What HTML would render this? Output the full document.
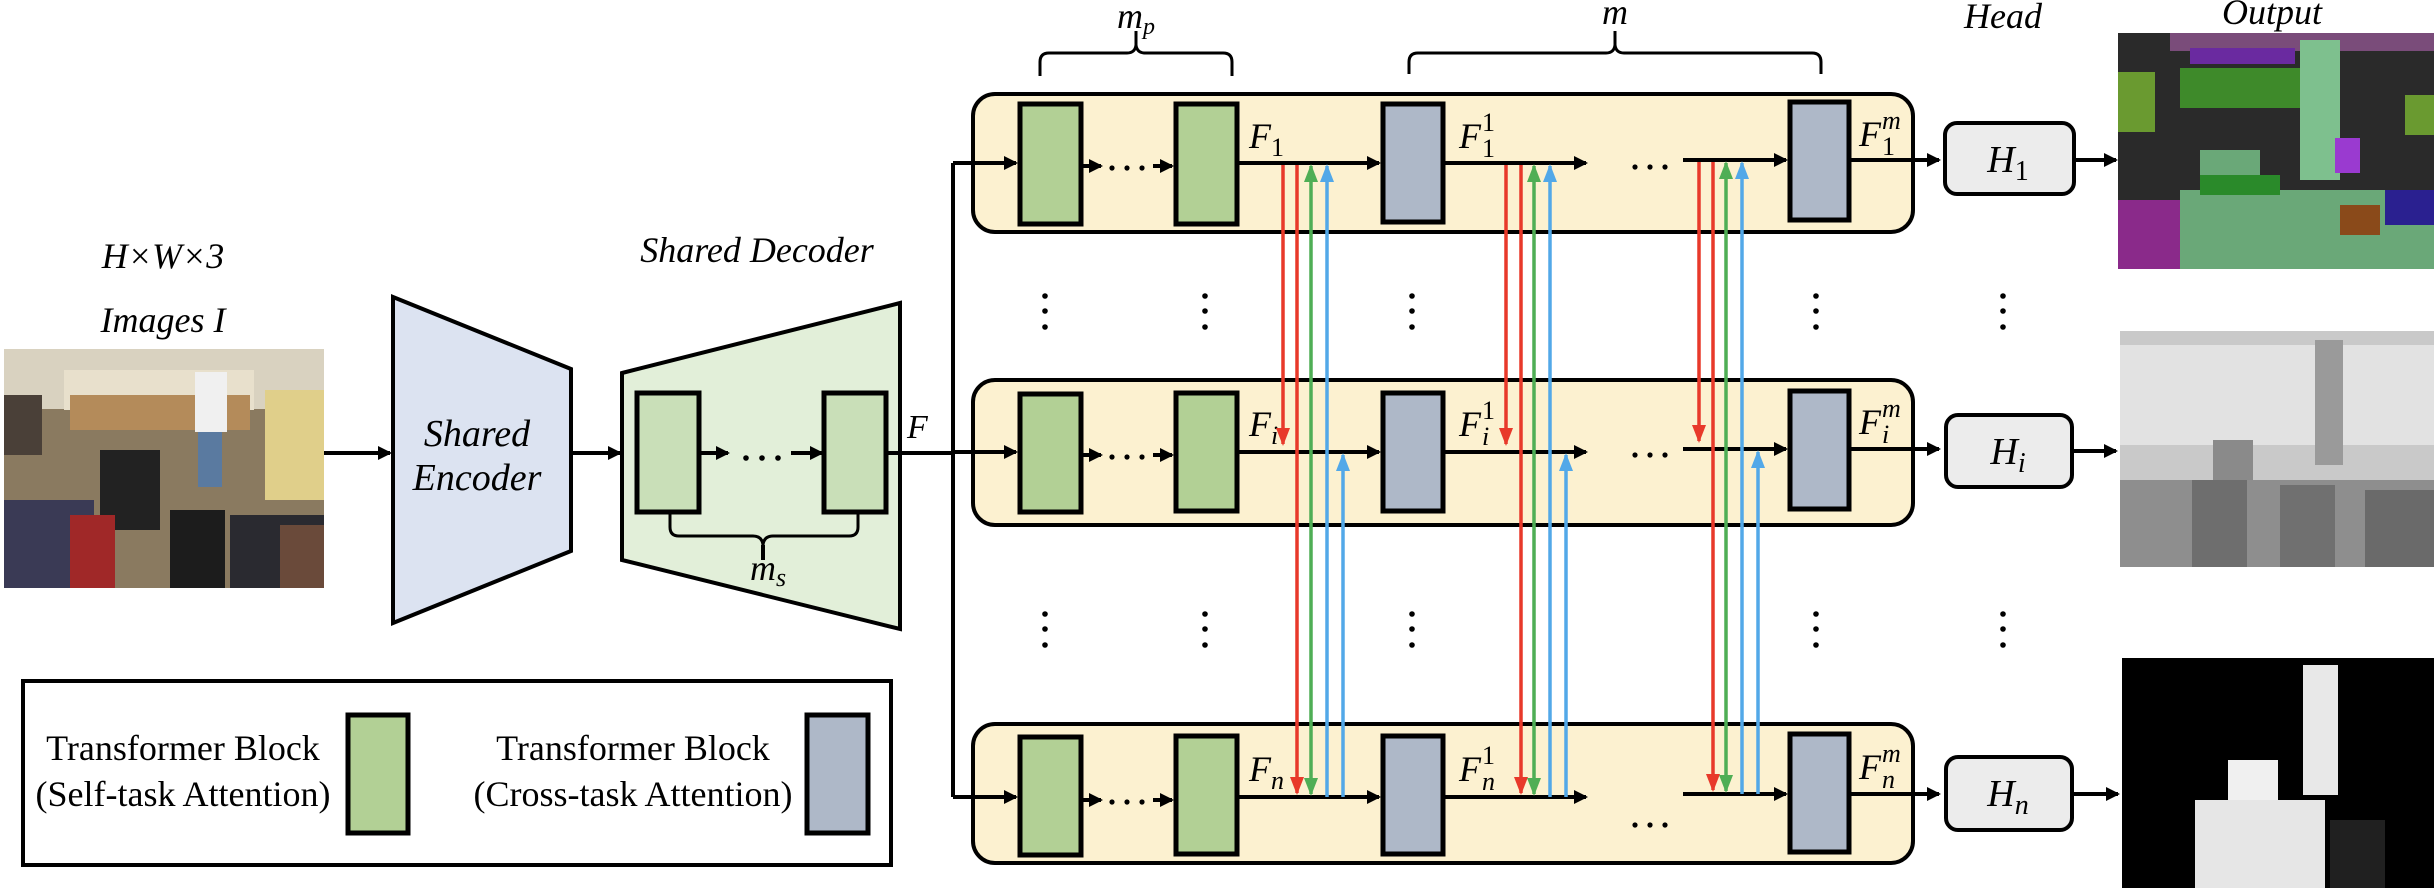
<!DOCTYPE html>
<html><head><meta charset="utf-8"><style>
html,body{margin:0;padding:0;background:#fff;}
svg{display:block;font-family:"Liberation Serif","DejaVu Serif",serif;}
svg text{font-family:"Liberation Serif","DejaVu Serif",serif;fill:#000;}
.it{font-style:italic;}
</style></head><body>
<svg width="2434" height="888" viewBox="0 0 2434 888" xmlns="http://www.w3.org/2000/svg" font-family="Liberation Serif, serif">
<defs>
<marker id="ak" markerWidth="14" markerHeight="14" refX="12" refY="7" orient="auto" markerUnits="userSpaceOnUse"><path d="M0,0 L14,7 L0,14 z" fill="#000"/></marker>
<marker id="ar" markerWidth="18" markerHeight="14" refX="16" refY="7" orient="auto-start-reverse" markerUnits="userSpaceOnUse"><path d="M0,0 L18,7 L0,14 z" fill="#e8392a"/></marker>
<marker id="ag" markerWidth="18" markerHeight="14" refX="16" refY="7" orient="auto-start-reverse" markerUnits="userSpaceOnUse"><path d="M0,0 L18,7 L0,14 z" fill="#4fae55"/></marker>
<marker id="ab" markerWidth="18" markerHeight="14" refX="16" refY="7" orient="auto-start-reverse" markerUnits="userSpaceOnUse"><path d="M0,0 L18,7 L0,14 z" fill="#52a8e8"/></marker>
</defs>

<!-- input photo -->
<rect x="4" y="349" width="320" height="239" fill="#8a7a60"/>
<rect x="4" y="349" width="320" height="60" fill="#d9d2c0"/>
<rect x="64" y="370" width="190" height="40" fill="#e8e0cc"/>
<rect x="70" y="395" width="180" height="35" fill="#b48b5a"/>
<rect x="265" y="390" width="59" height="110" fill="#e0cf8a"/>
<rect x="4" y="395" width="38" height="60" fill="#4a4038"/>
<rect x="4" y="500" width="90" height="88" fill="#3a3a55"/>
<rect x="195" y="372" width="32" height="60" fill="#f0f0f0"/>
<rect x="198" y="432" width="24" height="55" fill="#5a7aa0"/>
<rect x="100" y="450" width="60" height="80" fill="#222"/>
<rect x="70" y="515" width="45" height="73" fill="#a02828"/>
<rect x="170" y="510" width="55" height="78" fill="#1c1c1c"/>
<rect x="230" y="515" width="94" height="73" fill="#2a2a30"/>
<rect x="280" y="525" width="44" height="63" fill="#6a4a3a"/>

<text x="163" y="268" font-size="36" text-anchor="middle" class="it">H×W×3</text>
<text x="163" y="332" font-size="36" text-anchor="middle" class="it">Images I</text>

<line x1="324" y1="453" x2="390" y2="453" stroke="#000" stroke-width="4" marker-end="url(#ak)"/>

<!-- encoder -->
<polygon points="393,297 571,369 571,551 393,623" fill="#dce3f1" stroke="#000" stroke-width="4"/>
<text x="477" y="446" font-size="38" text-anchor="middle" class="it">Shared</text>
<text x="477" y="490" font-size="38" text-anchor="middle" class="it">Encoder</text>
<line x1="571" y1="453" x2="620" y2="453" stroke="#000" stroke-width="4" marker-end="url(#ak)"/>

<!-- decoder -->
<text x="757" y="262" font-size="36" text-anchor="middle" class="it">Shared Decoder</text>
<polygon points="622,373 900,303 900,629 622,560" fill="#e2efd9" stroke="#000" stroke-width="4"/>
<rect x="637" y="393" width="62" height="119" fill="#c9dfb8" stroke="#000" stroke-width="5"/>
<rect x="824" y="393" width="62" height="119" fill="#c9dfb8" stroke="#000" stroke-width="5"/>
<line x1="700" y1="453" x2="728" y2="453" stroke="#000" stroke-width="4" marker-end="url(#ak)"/>
<g fill="#000"><circle cx="746" cy="458" r="2.8"/><circle cx="762" cy="458" r="2.8"/><circle cx="778" cy="458" r="2.8"/></g>
<line x1="791" y1="453" x2="822" y2="453" stroke="#000" stroke-width="4" marker-end="url(#ak)"/>
<path d="M670,513 v14 q0,9 9,9 h74 q9,0 10,9 q1,-9 10,-9 h76 q9,0 9,-9 v-14" fill="none" stroke="#000" stroke-width="3"/>
<line x1="763" y1="545" x2="763" y2="560" stroke="#000" stroke-width="4"/>
<text x="768" y="580" font-size="36" class="it" text-anchor="middle">m<tspan font-size="26" dy="6">s</tspan></text>
<text x="907" y="438" font-size="34" class="it">F</text>

<!-- trunk -->
<line x1="888" y1="453" x2="953" y2="453" stroke="#000" stroke-width="4"/>
<line x1="953" y1="163" x2="953" y2="797" stroke="#000" stroke-width="4"/>

<!-- braces top -->
<path d="M1040,76 v-14 q0,-9 9,-9 h78 q8,0 9,-8 q1,8 9,8 h78 q9,0 9,9 v14" fill="none" stroke="#000" stroke-width="3"/>
<line x1="1136" y1="31" x2="1136" y2="46" stroke="#000" stroke-width="3"/>
<text x="1136" y="28" font-size="36" class="it" text-anchor="middle">m<tspan font-size="24" dy="6">p</tspan></text>
<path d="M1409,74 v-12 q0,-9 9,-9 h188 q8,0 9,-8 q1,8 9,8 h188 q9,0 9,9 v12" fill="none" stroke="#000" stroke-width="3"/>
<line x1="1615" y1="31" x2="1615" y2="46" stroke="#000" stroke-width="3"/>
<text x="1615" y="24" font-size="36" class="it" text-anchor="middle">m</text>
<text x="2003" y="28" font-size="36" class="it" text-anchor="middle">Head</text>
<text x="2272" y="24" font-size="36" class="it" text-anchor="middle">Output</text>

<!-- rows -->
<rect x="973" y="94" width="940" height="138" rx="22" fill="#fcf1d0" stroke="#000" stroke-width="4"/>
<rect x="973" y="380" width="940" height="145" rx="22" fill="#fcf1d0" stroke="#000" stroke-width="4"/>
<rect x="973" y="724" width="940" height="139" rx="22" fill="#fcf1d0" stroke="#000" stroke-width="4"/>

<g stroke="#000" stroke-width="5">
<rect x="1020" y="104" width="61" height="120" fill="#b2d095"/>
<rect x="1176" y="104" width="61" height="120" fill="#b2d095"/>
<rect x="1383" y="104" width="60" height="118" fill="#aeb8c8"/>
<rect x="1790" y="102" width="59" height="118" fill="#aeb8c8"/>
<rect x="1020" y="394" width="61" height="118" fill="#b2d095"/>
<rect x="1176" y="393" width="61" height="118" fill="#b2d095"/>
<rect x="1383" y="393" width="60" height="118" fill="#aeb8c8"/>
<rect x="1790" y="391" width="59" height="118" fill="#aeb8c8"/>
<rect x="1020" y="737" width="61" height="118" fill="#b2d095"/>
<rect x="1176" y="736" width="61" height="118" fill="#b2d095"/>
<rect x="1383" y="736" width="60" height="118" fill="#aeb8c8"/>
<rect x="1790" y="734" width="59" height="118" fill="#aeb8c8"/>
</g>

<g stroke="#000" stroke-width="4" fill="none">
<line x1="953" y1="163" x2="1016" y2="163" marker-end="url(#ak)"/>
<line x1="1083" y1="166" x2="1101" y2="166" marker-end="url(#ak)"/>
<line x1="1153" y1="166" x2="1172" y2="166" marker-end="url(#ak)"/>
<line x1="1239" y1="163" x2="1379" y2="163" marker-end="url(#ak)"/>
<line x1="1445" y1="163" x2="1586" y2="163" marker-end="url(#ak)"/>
<line x1="1683" y1="160" x2="1786" y2="160" marker-end="url(#ak)"/>
<line x1="1851" y1="160" x2="1939" y2="160" marker-end="url(#ak)"/>
<line x1="2076" y1="160" x2="2116" y2="160" marker-end="url(#ak)"/>
<line x1="953" y1="452" x2="1016" y2="452" marker-end="url(#ak)"/>
<line x1="1083" y1="455" x2="1101" y2="455" marker-end="url(#ak)"/>
<line x1="1153" y1="455" x2="1172" y2="455" marker-end="url(#ak)"/>
<line x1="1239" y1="452" x2="1379" y2="452" marker-end="url(#ak)"/>
<line x1="1445" y1="452" x2="1586" y2="452" marker-end="url(#ak)"/>
<line x1="1683" y1="449" x2="1786" y2="449" marker-end="url(#ak)"/>
<line x1="1851" y1="449" x2="1939" y2="449" marker-end="url(#ak)"/>
<line x1="2073" y1="451" x2="2116" y2="451" marker-end="url(#ak)"/>
<line x1="953" y1="797" x2="1016" y2="797" marker-end="url(#ak)"/>
<line x1="1083" y1="800" x2="1101" y2="800" marker-end="url(#ak)"/>
<line x1="1153" y1="800" x2="1172" y2="800" marker-end="url(#ak)"/>
<line x1="1239" y1="797" x2="1379" y2="797" marker-end="url(#ak)"/>
<line x1="1445" y1="797" x2="1586" y2="797" marker-end="url(#ak)"/>
<line x1="1683" y1="794" x2="1786" y2="794" marker-end="url(#ak)"/>
<line x1="1851" y1="794" x2="1939" y2="794" marker-end="url(#ak)"/>
<line x1="2073" y1="794" x2="2118" y2="794" marker-end="url(#ak)"/>
</g>
<g fill="#000" id="hd">
<circle cx="1112" cy="168" r="2.6"/><circle cx="1127" cy="168" r="2.6"/><circle cx="1142" cy="168" r="2.6"/>
<circle cx="1635" cy="167" r="2.6"/><circle cx="1650" cy="167" r="2.6"/><circle cx="1665" cy="167" r="2.6"/>
</g>
<g fill="#000">
<circle cx="1112" cy="457" r="2.6"/><circle cx="1127" cy="457" r="2.6"/><circle cx="1142" cy="457" r="2.6"/>
<circle cx="1635" cy="455" r="2.6"/><circle cx="1650" cy="455" r="2.6"/><circle cx="1665" cy="455" r="2.6"/>
<circle cx="1112" cy="802" r="2.6"/><circle cx="1127" cy="802" r="2.6"/><circle cx="1142" cy="802" r="2.6"/>
<circle cx="1635" cy="825" r="2.6"/><circle cx="1650" cy="825" r="2.6"/><circle cx="1665" cy="825" r="2.6"/>
</g>

<!-- vertical dots -->
<g fill="#000">
<g id="vd">
<circle cx="1045" cy="296" r="2.8"/><circle cx="1045" cy="311" r="2.8"/><circle cx="1045" cy="327" r="2.8"/>
<circle cx="1205" cy="296" r="2.8"/><circle cx="1205" cy="311" r="2.8"/><circle cx="1205" cy="327" r="2.8"/>
<circle cx="1412" cy="296" r="2.8"/><circle cx="1412" cy="311" r="2.8"/><circle cx="1412" cy="327" r="2.8"/>
<circle cx="1816" cy="296" r="2.8"/><circle cx="1816" cy="311" r="2.8"/><circle cx="1816" cy="327" r="2.8"/>
<circle cx="2003" cy="296" r="2.8"/><circle cx="2003" cy="311" r="2.8"/><circle cx="2003" cy="327" r="2.8"/>
</g>
<use href="#vd" y="318"/>
</g>

<!-- labels -->
<g font-size="36" class="it">
<text x="1249" y="148">F<tspan font-size="26" dy="8" font-style="normal">1</tspan></text>
<text x="1459" y="148">F</text><text x="1482" y="131" font-size="26" font-style="normal">1</text><text x="1482" y="157" font-size="26" font-style="normal">1</text>
<text x="1859" y="146">F</text><text x="1882" y="129" font-size="26">m</text><text x="1882" y="155" font-size="26" font-style="normal">1</text>
<text x="1249" y="436">F<tspan font-size="26" dy="8">i</tspan></text>
<text x="1459" y="436">F</text><text x="1482" y="419" font-size="26" font-style="normal">1</text><text x="1482" y="445" font-size="26">i</text>
<text x="1859" y="434">F</text><text x="1882" y="417" font-size="26">m</text><text x="1882" y="443" font-size="26">i</text>
<text x="1249" y="781">F<tspan font-size="26" dy="8">n</tspan></text>
<text x="1459" y="781">F</text><text x="1482" y="764" font-size="26" font-style="normal">1</text><text x="1482" y="790" font-size="26">n</text>
<text x="1859" y="779">F</text><text x="1882" y="762" font-size="26">m</text><text x="1882" y="788" font-size="26">n</text>
</g>

<!-- vertical cross-task arrows -->
<g stroke-width="3.5" fill="none">
<line x1="1283" y1="165" x2="1283" y2="444" stroke="#e8392a" marker-end="url(#ar)"/>
<line x1="1297" y1="165" x2="1297" y2="793" stroke="#e8392a" marker-end="url(#ar)"/>
<line x1="1311" y1="166" x2="1311" y2="794" stroke="#4fae55" marker-end="url(#ag)" marker-start="url(#ag)"/>
<line x1="1327" y1="797" x2="1327" y2="166" stroke="#52a8e8" marker-end="url(#ab)"/>
<line x1="1343" y1="797" x2="1343" y2="455" stroke="#52a8e8" marker-end="url(#ab)"/>
<line x1="1506" y1="165" x2="1506" y2="444" stroke="#e8392a" marker-end="url(#ar)"/>
<line x1="1521" y1="165" x2="1521" y2="793" stroke="#e8392a" marker-end="url(#ar)"/>
<line x1="1534" y1="166" x2="1534" y2="794" stroke="#4fae55" marker-end="url(#ag)" marker-start="url(#ag)"/>
<line x1="1550" y1="797" x2="1550" y2="166" stroke="#52a8e8" marker-end="url(#ab)"/>
<line x1="1566" y1="797" x2="1566" y2="455" stroke="#52a8e8" marker-end="url(#ab)"/>
<line x1="1699" y1="162" x2="1699" y2="441" stroke="#e8392a" marker-end="url(#ar)"/>
<line x1="1713" y1="162" x2="1713" y2="790" stroke="#e8392a" marker-end="url(#ar)"/>
<line x1="1726" y1="163" x2="1726" y2="791" stroke="#4fae55" marker-end="url(#ag)" marker-start="url(#ag)"/>
<line x1="1742" y1="794" x2="1742" y2="163" stroke="#52a8e8" marker-end="url(#ab)"/>
<line x1="1758" y1="794" x2="1758" y2="452" stroke="#52a8e8" marker-end="url(#ab)"/>
</g>

<!-- heads -->
<g stroke="#000" stroke-width="4" fill="#ececec">
<rect x="1945" y="123" width="129" height="71" rx="12"/>
<rect x="1946" y="415" width="126" height="72" rx="12"/>
<rect x="1946" y="757" width="126" height="73" rx="12"/>
</g>
<g font-size="38" class="it" text-anchor="middle">
<text x="2008" y="172">H<tspan font-size="28" dy="8" font-style="normal">1</tspan></text>
<text x="2008" y="464">H<tspan font-size="28" dy="8">i</tspan></text>
<text x="2008" y="806">H<tspan font-size="28" dy="8">n</tspan></text>
</g>

<!-- output 1 segmentation -->
<rect x="2118" y="33" width="316" height="236" fill="#2a2a2a"/>
<rect x="2170" y="33" width="264" height="18" fill="#7a4c7a"/>
<rect x="2190" y="48" width="105" height="16" fill="#6a2aa0"/>
<rect x="2180" y="68" width="125" height="40" fill="#3e8a2a"/>
<rect x="2118" y="72" width="37" height="60" fill="#6a9a30"/>
<rect x="2405" y="95" width="29" height="40" fill="#6a9a30"/>
<rect x="2118" y="200" width="90" height="69" fill="#8a2a8a"/>
<rect x="2180" y="190" width="254" height="79" fill="#6aa878"/>
<rect x="2200" y="150" width="60" height="60" fill="#6aa878"/>
<rect x="2300" y="40" width="40" height="140" fill="#7ec08e"/>
<rect x="2340" y="205" width="40" height="30" fill="#8a4a1a"/>
<rect x="2385" y="190" width="49" height="35" fill="#2a2090"/>
<rect x="2335" y="138" width="25" height="35" fill="#9a3ad0"/>
<rect x="2200" y="175" width="80" height="20" fill="#2a8a2a"/>
<!-- output 2 depth -->
<rect x="2120" y="331" width="314" height="236" fill="#c9c9c9"/>
<rect x="2120" y="345" width="314" height="100" fill="#e2e2e2"/>
<rect x="2315" y="340" width="28" height="125" fill="#9a9a9a"/>
<rect x="2213" y="440" width="40" height="80" fill="#8a8a8a"/>
<rect x="2120" y="480" width="314" height="87" fill="#8e8e8e"/>
<rect x="2192" y="480" width="55" height="87" fill="#6e6e6e"/>
<rect x="2280" y="485" width="55" height="82" fill="#707070"/>
<rect x="2365" y="490" width="69" height="77" fill="#6a6a6a"/>
<!-- output 3 saliency -->
<rect x="2122" y="658" width="312" height="230" fill="#000"/>
<rect x="2303" y="665" width="35" height="130" fill="#e8e8e8"/>
<rect x="2228" y="760" width="50" height="128" fill="#f0f0f0"/>
<rect x="2195" y="800" width="130" height="88" fill="#e6e6e6"/>
<rect x="2330" y="820" width="55" height="68" fill="#202020"/>

<!-- legend -->
<rect x="23" y="681" width="868" height="184" fill="#fff" stroke="#000" stroke-width="4"/>
<text x="183" y="760" font-size="36" text-anchor="middle">Transformer Block</text>
<text x="183" y="806" font-size="36" text-anchor="middle">(Self-task Attention)</text>
<rect x="348" y="715" width="60" height="118" fill="#b2d095" stroke="#000" stroke-width="5"/>
<text x="633" y="760" font-size="36" text-anchor="middle">Transformer Block</text>
<text x="633" y="806" font-size="36" text-anchor="middle">(Cross-task Attention)</text>
<rect x="807" y="715" width="61" height="118" fill="#aeb8c8" stroke="#000" stroke-width="5"/>
</svg>
</body></html>
